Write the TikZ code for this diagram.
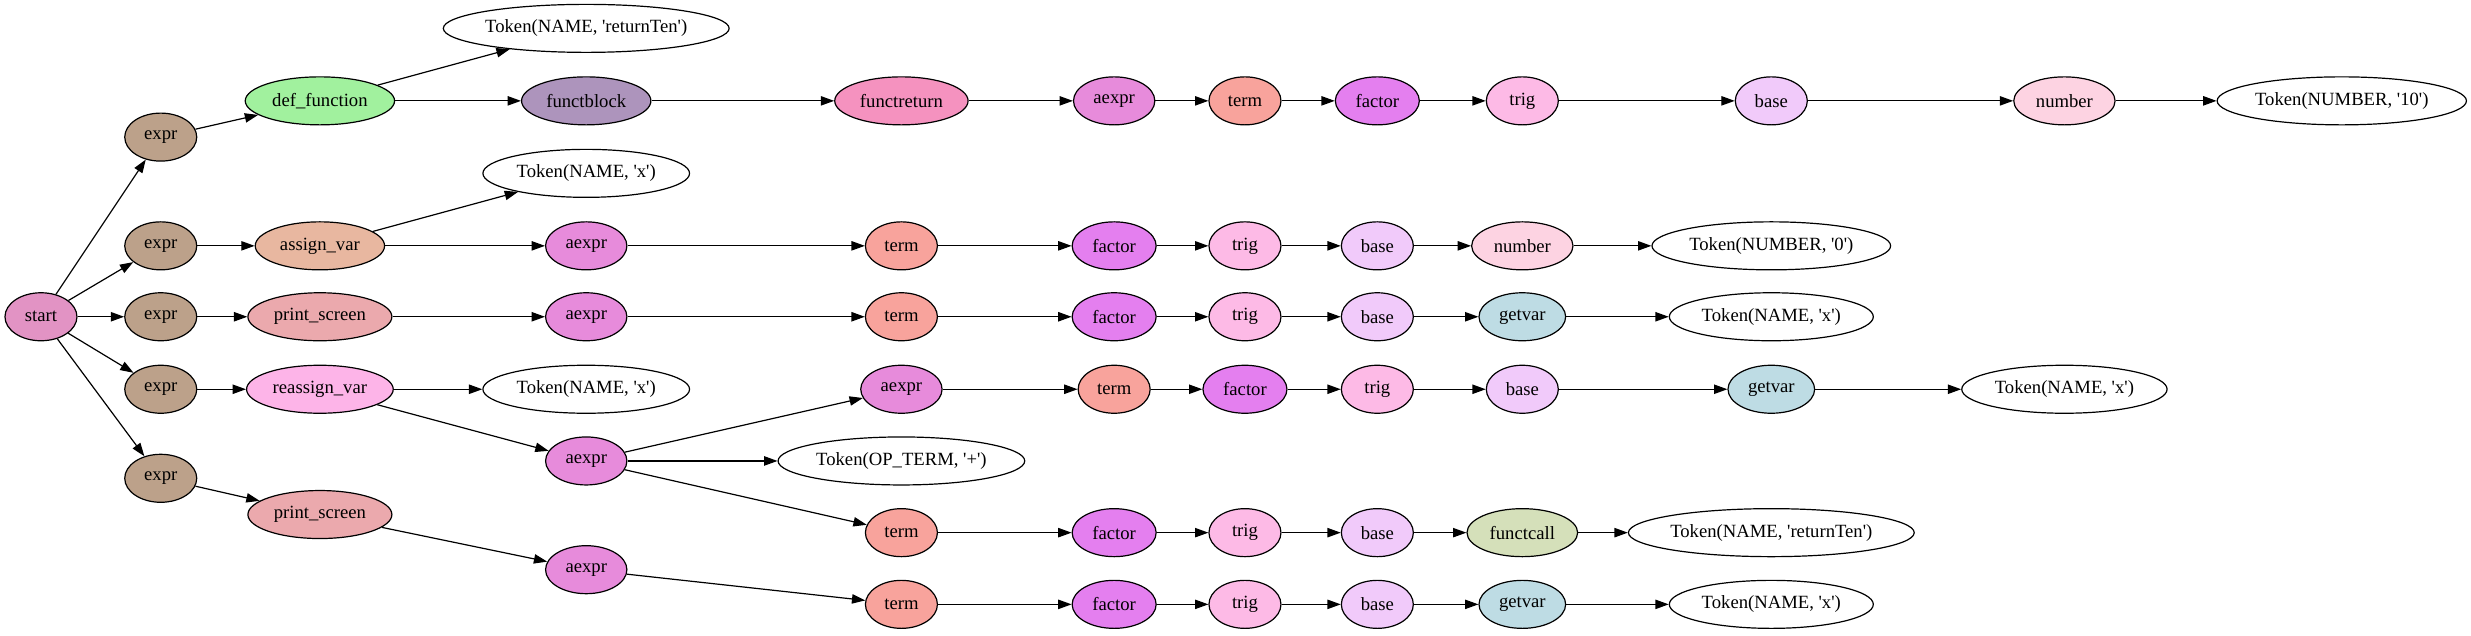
\documentclass[tikz,border=0pt]{standalone}
\usepackage{fontspec}
\setmainfont{Liberation Serif}
\usetikzlibrary{shapes.geometric,arrows.meta}
\newcommand{\myq}{\textquotesingle}
\definecolor{cstart}{HTML}{E293C4}
\definecolor{cexpr}{HTML}{BCA18A}
\definecolor{cdef}{HTML}{A1F19E}
\definecolor{cassign}{HTML}{E8B7A0}
\definecolor{cprint}{HTML}{EBA9AD}
\definecolor{creassign}{HTML}{FDB4E8}
\definecolor{cblock}{HTML}{AD94BC}
\definecolor{creturn}{HTML}{F592BF}
\definecolor{caexpr}{HTML}{E78BDB}
\definecolor{cterm}{HTML}{F8A39C}
\definecolor{cfactor}{HTML}{E47FEF}
\definecolor{ctrig}{HTML}{FDBAE6}
\definecolor{cbase}{HTML}{F1CAFA}
\definecolor{cnumber}{HTML}{FDD3E2}
\definecolor{cgetvar}{HTML}{BEDCE4}
\definecolor{ccall}{HTML}{D5E0BA}
\tikzset{
  nd/.style={ellipse, draw=black, line width=0.9pt, minimum height=36pt, inner sep=0pt,
    font=\fontsize{14}{16}\selectfont, minimum width=54pt},
  tok/.style={nd, fill=white},
  sstart/.style={nd, fill=cstart},
  sexpr/.style={nd, fill=cexpr},
  sdef/.style={nd, fill=cdef, minimum width=112pt},
  sassign/.style={nd, fill=cassign, minimum width=97pt},
  sprint/.style={nd, fill=cprint, minimum width=108pt},
  sreassign/.style={nd, fill=creassign, minimum width=110pt},
  sblock/.style={nd, fill=cblock, minimum width=97pt},
  sreturn/.style={nd, fill=creturn, minimum width=100pt},
  saexpr/.style={nd, fill=caexpr, minimum width=61pt},
  sterm/.style={nd, fill=cterm},
  sfactor/.style={nd, fill=cfactor, minimum width=63pt},
  strig/.style={nd, fill=ctrig},
  sbase/.style={nd, fill=cbase},
  snumber/.style={nd, fill=cnumber, minimum width=76pt},
  sgetvar/.style={nd, fill=cgetvar, minimum width=65pt},
  scall/.style={nd, fill=ccall, minimum width=83pt},
  edge/.style={draw=black, line width=0.9pt, -{Triangle[length=10pt,width=7pt]}}
}
\begin{document}
\begin{tikzpicture}[x=1.182pt, y=-1.182pt]
\useasboundingbox (0,0) rectangle (1568,403);
% level 0-1
\node[sstart] (start) at (26,201) {start};
\node[sexpr] (e1) at (102,87) {expr};
\node[sexpr] (e2) at (102,156) {expr};
\node[sexpr] (e3) at (102,201) {expr};
\node[sexpr] (e4) at (102,247) {expr};
\node[sexpr] (e5) at (102,303.5) {expr};
% level 2
\node[sdef] (df) at (203,64) {def\_function};
\node[sassign] (av) at (203,156) {assign\_var};
\node[sprint] (ps1) at (203,201) {print\_screen};
\node[sreassign] (rv) at (203,247) {reassign\_var};
\node[sprint] (ps2) at (203,326.5) {print\_screen};
% level 3
\node[tok, minimum width=214pt] (t1) at (372,18) {Token(NAME, \myq returnTen\myq)};
\node[sblock] (fb) at (372,64) {functblock};
\node[tok, minimum width=155pt] (t2) at (372,110) {Token(NAME, \myq x\myq)};
\node[saexpr] (a2) at (372,156) {aexpr};
\node[saexpr] (a3) at (372,201) {aexpr};
\node[tok, minimum width=155pt] (t4) at (372,247) {Token(NAME, \myq x\myq)};
\node[saexpr] (a4) at (372,292.5) {aexpr};
\node[saexpr] (a5) at (372,361.5) {aexpr};
% row 1
\node[sreturn] (fr) at (572,64) {functreturn};
\node[saexpr] (r1a) at (707,64) {aexpr};
\node[sterm] (r1t) at (790,64) {term};
\node[sfactor] (r1f) at (874,64) {factor};
\node[strig] (r1g) at (966,64) {trig};
\node[sbase] (r1b) at (1124,64) {base};
\node[snumber] (r1n) at (1310,64) {number};
\node[tok, minimum width=187pt] (r1k) at (1486,64) {Token(NUMBER, \myq 10\myq)};
% row 2
\node[sterm] (r2t) at (572,156) {term};
\node[sfactor] (r2f) at (707,156) {factor};
\node[strig] (r2g) at (790,156) {trig};
\node[sbase] (r2b) at (874,156) {base};
\node[snumber] (r2n) at (966,156) {number};
\node[tok, minimum width=179pt] (r2k) at (1124,156) {Token(NUMBER, \myq 0\myq)};
% row 3
\node[sterm] (r3t) at (572,201) {term};
\node[sfactor] (r3f) at (707,201) {factor};
\node[strig] (r3g) at (790,201) {trig};
\node[sbase] (r3b) at (874,201) {base};
\node[sgetvar] (r3v) at (966,201) {getvar};
\node[tok, minimum width=153pt] (r3k) at (1124,201) {Token(NAME, \myq x\myq)};
% row 4
\node[saexpr] (r4a) at (572,247) {aexpr};
\node[sterm] (r4t) at (707,247) {term};
\node[sfactor] (r4f) at (790,247) {factor};
\node[strig] (r4g) at (874,247) {trig};
\node[sbase] (r4b) at (966,247) {base};
\node[sgetvar] (r4v) at (1124,247) {getvar};
\node[tok, minimum width=154pt] (r4k) at (1310,247) {Token(NAME, \myq x\myq)};
% op
\node[tok, minimum width=185pt] (op) at (572,292.5) {Token(OP\_TERM, \myq +\myq)};
% row 5
\node[sterm] (r5t) at (572,338) {term};
\node[sfactor] (r5f) at (707,338) {factor};
\node[strig] (r5g) at (790,338) {trig};
\node[sbase] (r5b) at (874,338) {base};
\node[scall] (r5c) at (966,338) {functcall};
\node[tok, minimum width=214pt] (r5k) at (1124,338) {Token(NAME, \myq returnTen\myq)};
% row 6
\node[sterm] (r6t) at (572,383.5) {term};
\node[sfactor] (r6f) at (707,383.5) {factor};
\node[strig] (r6g) at (790,383.5) {trig};
\node[sbase] (r6b) at (874,383.5) {base};
\node[sgetvar] (r6v) at (966,383.5) {getvar};
\node[tok, minimum width=153pt] (r6k) at (1124,383.5) {Token(NAME, \myq x\myq)};
% edges
\foreach \a/\b in {start/e1,start/e2,start/e3,start/e4,start/e5,
  e1/df,e2/av,e3/ps1,e4/rv,e5/ps2,
  df/t1,df/fb,av/t2,av/a2,ps1/a3,rv/t4,rv/a4,ps2/a5,
  fb/fr,fr/r1a,r1a/r1t,r1t/r1f,r1f/r1g,r1g/r1b,r1b/r1n,r1n/r1k,
  a2/r2t,r2t/r2f,r2f/r2g,r2g/r2b,r2b/r2n,r2n/r2k,
  a3/r3t,r3t/r3f,r3f/r3g,r3g/r3b,r3b/r3v,r3v/r3k,
  a4/r4a,a4/op,a4/r5t,
  r4a/r4t,r4t/r4f,r4f/r4g,r4g/r4b,r4b/r4v,r4v/r4k,
  r5t/r5f,r5f/r5g,r5g/r5b,r5b/r5c,r5c/r5k,
  a5/r6t,r6t/r6f,r6f/r6g,r6g/r6b,r6b/r6v,r6v/r6k}
  \draw[edge] (\a) -- (\b);
\end{tikzpicture}
\end{document}
